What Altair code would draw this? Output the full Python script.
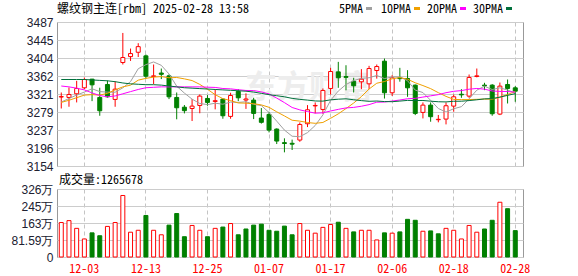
import altair as alt
import pandas as pd

DATES = [
    "2024-11-28", "2024-11-29", "2024-12-02", "2024-12-03", "2024-12-04", "2024-12-05", "2024-12-06",
    "2024-12-09", "2024-12-10", "2024-12-11", "2024-12-12", "2024-12-13", "2024-12-16", "2024-12-17",
    "2024-12-18", "2024-12-19", "2024-12-20", "2024-12-23", "2024-12-24", "2024-12-25", "2024-12-26",
    "2024-12-27", "2024-12-30", "2024-12-31", "2025-01-02", "2025-01-03", "2025-01-06", "2025-01-07",
    "2025-01-08", "2025-01-09", "2025-01-10", "2025-01-13", "2025-01-14", "2025-01-15", "2025-01-16",
    "2025-01-17", "2025-01-20", "2025-01-21", "2025-01-22", "2025-01-23", "2025-01-24", "2025-01-27",
    "2025-02-05", "2025-02-06", "2025-02-07", "2025-02-10", "2025-02-11", "2025-02-12", "2025-02-13",
    "2025-02-14", "2025-02-17", "2025-02-18", "2025-02-19", "2025-02-20", "2025-02-21", "2025-02-24",
    "2025-02-25", "2025-02-26", "2025-02-27", "2025-02-28",
]
OPEN = [3313.5, 3312.5, 3321, 3334.8, 3354.8, 3312.5, 3342.5, 3307.9, 3393.3, 3407,
        3417, 3408.7, 3361, 3369, 3362.5, 3312.5, 3290, 3287, 3294, 3310.2,
        3303.3, 3308.7, 3268.7, 3326.4, 3306.5, 3306.4, 3265, 3273.3, 3239.4, 3208,
        3206.5, 3214, 3251.7, 3293, 3284.8, 3333.3, 3371.7, 3361, 3350, 3348.7,
        3344, 3374.8, 3396.4, 3323.3, 3358, 3356.4, 3341, 3277.9, 3294.8, 3261,
        3262.5, 3292.5, 3320, 3315.6, 3361, 3341, 3341, 3274, 3342.5, 3334.8]
HIGH = [3324, 3335.6, 3351, 3358.7, 3355.5, 3335, 3351.7, 3350, 3461.7, 3425.6,
        3438, 3411.7, 3388.7, 3379.4, 3365.6, 3324, 3295, 3308.7, 3319.4, 3318,
        3331, 3310, 3323.4, 3331.7, 3322, 3311.7, 3288, 3279.4, 3241, 3218,
        3215, 3254.8, 3294.8, 3301, 3333.3, 3381, 3394.8, 3387, 3358, 3378,
        3385.6, 3388.7, 3402.5, 3364, 3381, 3375.6, 3342.5, 3301, 3301, 3272,
        3301, 3319.4, 3331.7, 3365.6, 3379.4, 3346.4, 3343.3, 3347, 3354, 3338.7]
LOW = [3287, 3291, 3301, 3332, 3304, 3270.2, 3312, 3291, 3388.7, 3397,
       3406, 3356, 3343.3, 3355, 3308.7, 3262, 3275.6, 3258, 3276, 3293.3,
       3285, 3263.3, 3263.3, 3304, 3286, 3262.5, 3252, 3231.7, 3204.8, 3185.6,
       3191, 3210, 3244, 3275.6, 3274.8, 3319.4, 3334.8, 3329, 3324, 3331.7,
       3331.7, 3356, 3310, 3316, 3349, 3314, 3271.7, 3264, 3256.4, 3255,
       3250.2, 3279.4, 3311.7, 3311.7, 3359, 3329.4, 3270.2, 3271.7, 3298.6, 3302.5]
CLOSE = [3314.5, 3319.4, 3333.3, 3354.0, 3341.7, 3281.7, 3314.0, 3331.7, 3404.8, 3414.0,
         3430.0, 3361.7, 3362.5, 3366.0, 3314.0, 3288.7, 3282.0, 3292.5, 3315.6, 3301.0,
         3305.0, 3270.2, 3317.0, 3311.7, 3309.0, 3275.6, 3255.0, 3237.0, 3211.7, 3206.0,
         3204.5, 3250.0, 3284.0, 3294.0, 3328.7, 3372.5, 3358.0, 3359.0, 3339.5, 3354.8,
         3379.4, 3384.0, 3323.3, 3358.0, 3356.0, 3334.8, 3275.6, 3294.8, 3268.0, 3262.0,
         3293.3, 3314.0, 3318.5, 3358.7, 3362.5, 3339.4, 3274.8, 3338.7, 3333.3, 3327.0]
VOLUME = [1655000, 1746000, 1375000, 866000, 1159000, 1020000, 1468000, 1655000, 2952000, 1190000,
          1283000, 1993000, 1283000, 1066000, 1530000, 2086000, 974000, 1514000, 1283000, 974000,
          1375000, 1437000, 1607000, 1066000, 1344000, 1530000, 1576000, 1283000, 1236000, 1483000,
          1066000, 1607000, 1283000, 1144000, 1422000, 1561000, 1669000, 1375000, 1205000, 1283000,
          1283000, 819000, 1159000, 1144000, 1205000, 1808000, 1762000, 1236000, 1252000, 1113000,
          1375000, 1283000, 866000, 1514000, 1190000, 1344000, 1762000, 2627000, 2318000, 1265678]
MA5 = [3302, 3310, 3318, 3325, 3332.6, 3326.0, 3324.9, 3324.6, 3334.8, 3349.2,
       3378.9, 3388.4, 3394.6, 3386.8, 3366.8, 3338.6, 3322.6, 3308.6, 3298.6, 3296.0,
       3299.2, 3296.9, 3301.8, 3301.0, 3302.6, 3296.7, 3293.7, 3277.7, 3257.7, 3237.1,
       3222.8, 3221.8, 3231.2, 3247.7, 3272.2, 3305.8, 3327.4, 3342.4, 3351.5, 3356.8,
       3358.1, 3363.3, 3356.2, 3359.9, 3360.1, 3351.2, 3329.5, 3323.8, 3305.8, 3287.0,
       3278.7, 3286.4, 3291.2, 3309.3, 3329.4, 3338.6, 3330.8, 3334.8, 3329.7, 3322.6]
MA10 = [3301, 3306, 3312, 3318, 3319, 3318, 3322, 3330, 3337, 3340.9,
        3352.5, 3356.7, 3359.6, 3360.8, 3358.0, 3358.7, 3355.5, 3351.6, 3342.7, 3331.4,
        3318.9, 3309.8, 3305.2, 3299.8, 3299.3, 3298.0, 3295.3, 3289.7, 3279.3, 3269.8,
        3259.8, 3257.8, 3254.5, 3252.7, 3254.7, 3264.3, 3274.6, 3286.8, 3299.6, 3314.5,
        3332.0, 3345.4, 3349.3, 3355.7, 3358.5, 3354.7, 3346.4, 3340.0, 3332.9, 3323.6,
        3315.0, 3308.0, 3307.5, 3307.6, 3308.2, 3308.7, 3308.6, 3313.0, 3319.5, 3326.0]
MA20 = [3339, 3337, 3334, 3330, 3323, 3317, 3314, 3316, 3321, 3326,
        3331, 3335, 3336, 3337, 3337, 3337, 3337, 3337, 3337, 3336.2,
        3335.7, 3333.2, 3332.4, 3330.3, 3328.7, 3328.4, 3325.4, 3320.7, 3311.0, 3300.6,
        3289.3, 3283.8, 3279.8, 3276.2, 3277.0, 3281.2, 3285.0, 3288.3, 3289.5, 3292.2,
        3295.9, 3301.6, 3301.9, 3304.2, 3306.6, 3309.5, 3310.5, 3313.4, 3316.2, 3319.0,
        3323.5, 3326.7, 3328.4, 3331.6, 3333.3, 3331.7, 3327.5, 3326.5, 3326.2, 3324.8]
MA30 = [3354, 3354, 3354, 3354, 3353, 3352, 3351, 3349, 3346, 3344,
        3343, 3342, 3342, 3341, 3339, 3337, 3335, 3334, 3333, 3332,
        3331, 3330, 3329, 3328, 3327, 3325, 3322, 3319, 3316.5, 3314.0,
        3310.4, 3308.1, 3306.4, 3304.4, 3304.0, 3307.0, 3308.5, 3309.4, 3307.2, 3305.2,
        3303.6, 3304.3, 3303.0, 3302.7, 3304.1, 3305.7, 3305.4, 3305.5, 3303.9, 3302.6,
        3302.2, 3303.7, 3303.8, 3305.3, 3307.1, 3309.2, 3309.9, 3313.3, 3317.3, 3321.4]

LABEL_DATES = ["2024-12-03", "2024-12-13", "2024-12-25", "2025-01-07",
               "2025-01-17", "2025-02-06", "2025-02-18", "2025-02-28"]
PRICE_TICKS = [3154, 3195.625, 3237.25, 3278.875, 3320.5, 3362.125, 3403.75, 3445.375, 3487]
PRICE_TICK_LABELS = ["3154", "3196", "3237", "3279", "3321", "3362", "3404", "3445", "3487"]
VOL_TICKS = [0, 815900, 1631800, 2447700, 3263600]
VOL_TICK_LABELS = ["0", "81.59万", "163万", "245万", "326万"]
MA_NAMES = ["5PMA", "10PMA", "20PMA", "30PMA"]
TITLE = "螺纹钢主连[rbm] 2025-02-28 13:58"
VOL_TITLE = "成交量:" + str(VOLUME[-1])
WATERMARK = "东方财富"

RED = "#ff0000"
GREEN = "#008000"
MA_COLORS = ["#a0a0a0", "#f0a000", "#ff00ff", "#00703c"]
MONO = "'Noto Sans Mono CJK SC', 'Noto Sans CJK SC', 'Liberation Mono'"
SANS = "Liberation Sans"
GRID = "#cccccc"
VGRID = "#c4c4c4"

W, H1, H2 = 466, 144, 68

n = len(DATES)
df = pd.DataFrame({"date": DATES, "open": OPEN, "high": HIGH, "low": LOW,
                   "close": CLOSE, "vol": VOLUME})
up = [c >= o for o, c in zip(OPEN, CLOSE)]
df["col"] = [RED if u else GREEN for u in up]
df["fillc"] = ["#ffffff" if u else GREEN for u in up]
vup = [True] + [CLOSE[i] >= CLOSE[i - 1] for i in range(1, n)]
df["vcol"] = [RED if u else GREEN for u in vup]
df["vfill"] = ["#ffffff" if u else GREEN for u in vup]

ma_df = pd.concat([
    pd.DataFrame({"date": DATES, "ma": name, "val": vals})
    for name, vals in zip(MA_NAMES, [MA5, MA10, MA20, MA30])
])


def label_expr(values, labels):
    s = ""
    for v, lab in zip(values, labels):
        s += f"abs(datum.value - {v}) < 0.01 ? '{lab}' : "
    return s + "''"


xscale = alt.Scale(domain=DATES, paddingInner=0, paddingOuter=0.28, align=0.1)
price_scale = alt.Scale(domain=[PRICE_TICKS[0], PRICE_TICKS[-1]], zero=False, nice=False)
vol_scale = alt.Scale(domain=[0, VOL_TICKS[-1]], zero=True, nice=False)

x_top = alt.X("date:O", scale=xscale, axis=alt.Axis(
    values=LABEL_DATES, labels=False, ticks=False, domain=False, grid=True,
    gridDash=[4, 3], gridColor=VGRID, title=None, bandPosition=0.5))

axis_price = alt.Axis(values=PRICE_TICKS, labelExpr=label_expr(PRICE_TICKS, PRICE_TICK_LABELS),
                      grid=True, gridColor=GRID, ticks=False, domain=False, labelPadding=4,
                      labelFontSize=12, labelOverlap=False, labelBound=False, labelFlush=False,
                      labelColor="#202030", labelFont=SANS, title=None)

wm = alt.Chart(pd.DataFrame({"t": [WATERMARK]})).mark_text(
    font="Noto Sans CJK SC", fontSize=32, fontWeight="bold", color="#ededed",
    align="center", baseline="middle").encode(
    x=alt.value(252), y=alt.value(66), text="t:N")

wick = alt.Chart(df).mark_rule(strokeWidth=1).encode(
    x=x_top,
    y=alt.Y("low:Q", scale=price_scale, axis=axis_price),
    y2="high:Q",
    color=alt.Color("col:N", scale=None))

body = alt.Chart(df).mark_bar(size=4, strokeWidth=1).encode(
    x=x_top,
    y=alt.Y("open:Q", scale=price_scale, axis=axis_price),
    y2="close:Q",
    fill=alt.Fill("fillc:N", scale=None),
    stroke=alt.Stroke("col:N", scale=None))

lines = alt.Chart(ma_df).mark_line(strokeWidth=1).encode(
    x=x_top,
    y=alt.Y("val:Q", scale=price_scale, axis=axis_price),
    color=alt.Color("ma:N", scale=alt.Scale(domain=MA_NAMES, range=MA_COLORS), legend=None),
    order=alt.Order("date:O"))

title_txt = alt.Chart(pd.DataFrame({"t": [TITLE]})).mark_text(
    font=MONO, fontSize=12, color="#000000", align="left", baseline="middle").encode(
    x=alt.value(0), y=alt.value(-13.4), text="t:N")

legend_layers = []
LEG_END = [306, 354, 400, 446]
for name, colr, xe in zip(MA_NAMES, MA_COLORS, LEG_END):
    legend_layers.append(
        alt.Chart(pd.DataFrame({"t": [name]})).mark_text(
            font=MONO, fontSize=12, color="#000000", align="right", baseline="middle").encode(
            x=alt.value(xe), y=alt.value(-13.4), text="t:N"))
    legend_layers.append(
        alt.Chart(pd.DataFrame({"t": [name]})).mark_rect(color=colr).encode(
            x=alt.value(xe + 3), x2=alt.value(xe + 9), y=alt.value(-15), y2=alt.value(-12)))

top = alt.layer(wm, wick, body, lines, title_txt, *legend_layers).properties(width=W, height=H1)

x_bot = alt.X("date:O", scale=xscale, axis=alt.Axis(
    values=LABEL_DATES, labelExpr="substring(datum.value, 5)", labelColor=RED,
    labelFont=MONO, labelFontSize=12, labelPadding=6, labelAngle=0, ticks=False,
    domain=False, grid=True, gridDash=[4, 3], gridColor=VGRID, title=None, bandPosition=0.5))

axis_vol = alt.Axis(values=VOL_TICKS, labelExpr=label_expr(VOL_TICKS, VOL_TICK_LABELS),
                    grid=True, gridColor=GRID, ticks=False, domain=False, labelPadding=4,
                    labelFontSize=12, labelOverlap=False, labelColor="#202030",
                    labelFont=SANS, title=None)

vbars = alt.Chart(df).mark_bar(size=4, strokeWidth=1).encode(
    x=x_bot,
    y=alt.Y("vol:Q", scale=vol_scale, axis=axis_vol),
    fill=alt.Fill("vfill:N", scale=None),
    stroke=alt.Stroke("vcol:N", scale=None))

vol_txt = alt.Chart(pd.DataFrame({"t": [VOL_TITLE]})).mark_text(
    font=MONO, fontSize=12, color="#000000", align="left", baseline="middle").encode(
    x=alt.value(2), y=alt.value(-9), text="t:N")

bottom = alt.layer(vbars, vol_txt).properties(width=W, height=H2)

chart = alt.vconcat(top, bottom, spacing=0).properties(
    padding={"left": 10, "top": 2, "right": 4, "bottom": 2},
    background="white",
).configure_view(stroke="#999999", strokeWidth=1).configure_axis(labelOverlap=False)

chart.save("out.html", embed_options={"renderer": "svg", "actions": False})
